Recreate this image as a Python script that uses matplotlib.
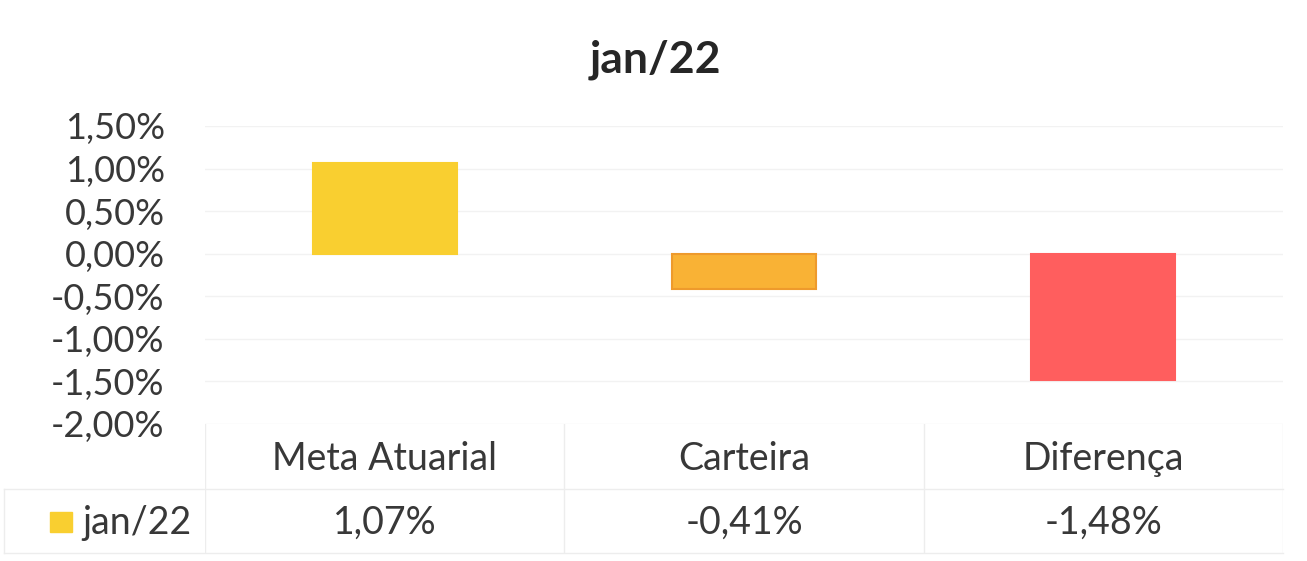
import matplotlib.pyplot as plt
import numpy as np

categories = ["Meta Atuarial", "Carteira", "Diferença"]
values = [1.07, -0.41, -1.48]
series_name = "jan/22"
colors = ["#F9CF30", "#F9B235", "#FF5E5E"]
edges = ["#F9CF30", "#EE9A2C", "#FF5E5E"]
yticks = [1.5, 1.0, 0.5, 0.0, -0.5, -1.0, -1.5, -2.0]

def pct(v):
    return "{:.2f}%".format(v).replace(".", ",")

plt.rcParams['font.family'] = ['Lato', 'DejaVu Sans']
W, H = 1307, 561
fig = plt.figure(figsize=(W / 100, H / 100), dpi=100)
txt = "#383838"

# main plot area (pixel box 205..1283 x 126..424)
ax = fig.add_axes([205 / W, (H - 424) / H, (1283 - 205) / W, (424 - 126) / H])
x = np.arange(len(categories))
ax.bar(x, values, width=0.4, color=colors, edgecolor=edges, linewidth=1.5, zorder=3)
ax.set_xlim(-0.5, len(categories) - 0.5)
ax.set_ylim(-2.0, 1.5)
ax.set_yticks(yticks)
ax.set_yticklabels([pct(v) for v in yticks], fontsize=26, color=txt)
ax.set_xticks([])
ax.tick_params(axis="y", length=0, pad=29)
for s in ax.spines.values():
    s.set_visible(False)
ax.grid(axis="y", color="#F2F2F2", linewidth=1, zorder=0)
fig.text(655 / W, 1 - 60 / H, series_name, ha="center", va="center",
         fontsize=32, fontweight="bold", color="#262626")

# data table below the plot
tab = fig.add_axes([205 / W, (H - 553) / H, (1283 - 205) / W, (553 - 424) / H])
tab.set_xlim(-0.5, len(categories) - 0.5)
tab.set_ylim(0, 2)
tab.axis("off")
line_col = "#EDEDED"
for xv in np.arange(len(categories) + 1) - 0.5:
    tab.plot([xv, xv], [0, 2], color=line_col, lw=1)
for yv in [0, 1]:
    tab.plot([-1.06, len(categories) - 0.5], [yv, yv], color=line_col, lw=1, clip_on=False)
tab.plot([-1.06, -1.06], [0, 1], color=line_col, lw=1, clip_on=False)
for i, c in enumerate(categories):
    tab.text(i, 1.45, c, ha="center", va="center", fontsize=27, color=txt)
    tab.text(i, 0.47, pct(values[i]), ha="center", va="center", fontsize=27, color=txt)
tab.add_patch(plt.Rectangle((-0.932, 0.33), 0.061, 0.3, color=colors[0], clip_on=False))
tab.text(-0.84, 0.47, series_name, ha="left", va="center", fontsize=27, color=txt)

fig.savefig("out.png", dpi=100)
